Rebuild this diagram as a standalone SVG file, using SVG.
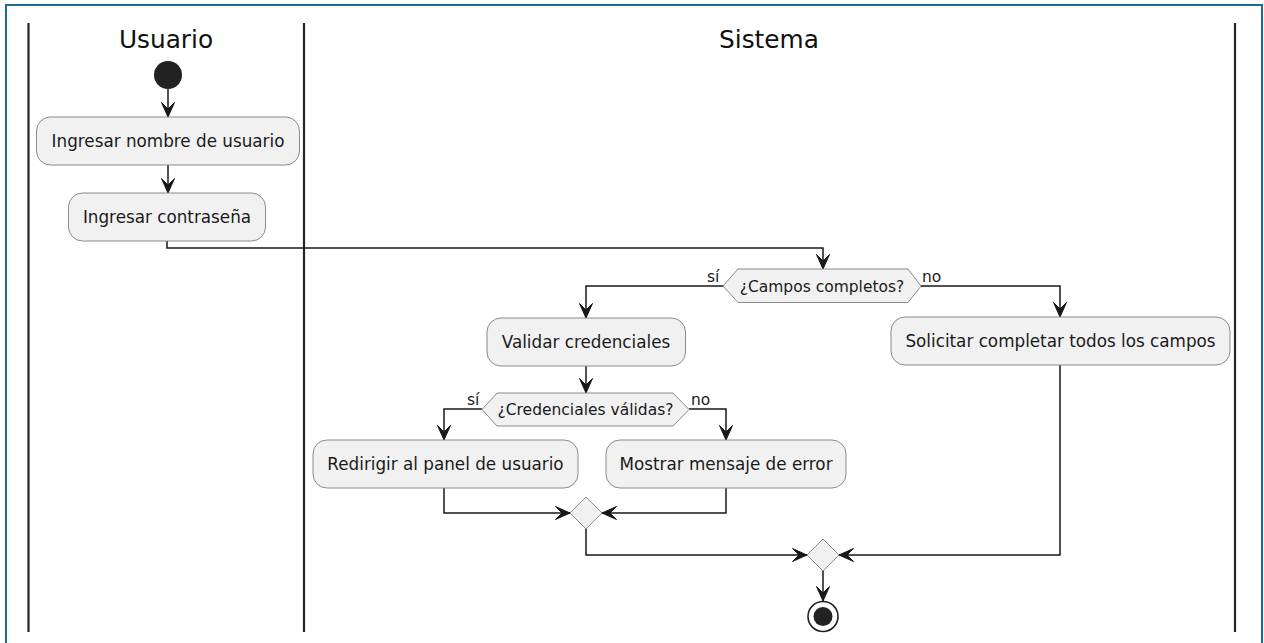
<svg xmlns="http://www.w3.org/2000/svg" width="1264" height="643" viewBox="0 0 1264 643">
  <style>
    .lane { stroke: #262626; stroke-width: 2.2; }
    .title { font-family: "DejaVu Sans", sans-serif; font-size: 24.8px; fill: #111; text-anchor: middle; }
    .act rect { fill: #F1F1F1; stroke: #8a8a8a; stroke-width: 1; }
    .act text { font-family: "DejaVu Sans", sans-serif; font-size: 16.8px; fill: #1a1a1a; text-anchor: middle; }
    .dec polygon { fill: #F1F1F1; stroke: #8a8a8a; stroke-width: 1; }
    .dec text, .guard { font-family: "DejaVu Sans", sans-serif; font-size: 15.5px; fill: #1a1a1a; }
    .dec text { text-anchor: middle; }
    .edge { fill: none; stroke: #181818; stroke-width: 1.5; marker-end: url(#arrow); }
  </style>
  <defs>
    <marker id="arrow" markerUnits="userSpaceOnUse" markerWidth="20" markerHeight="16" viewBox="-16 -8 20 16" refX="0" refY="0" orient="auto">
      <path d="M0,0 L-14.5,-6.5 L-8,0 L-14.5,6.5 Z" fill="#181818" stroke="#181818" stroke-width="1" stroke-linejoin="miter"/>
    </marker>
  </defs>

  <rect width="1264" height="643" fill="#ffffff"/>
  <!-- outer frame -->
  <rect x="6" y="5" width="1256" height="660" fill="none" stroke="#1f6a96" stroke-width="2"/>

  <!-- swimlanes -->
  <g id="lanes">
    <line class="lane" x1="28.5" y1="23" x2="28.5" y2="632"/>
    <line class="lane" x1="304" y1="23" x2="304" y2="632"/>
    <line class="lane" x1="1235" y1="23" x2="1235" y2="632"/>
    <text class="title" x="166" y="48">Usuario</text>
    <text class="title" x="769" y="48">Sistema</text>
  </g>

  <!-- connectors -->
  <g id="connectors">
    <path class="edge" d="M168,89 L168,117"/>
    <path class="edge" d="M168,165 L168,193"/>
    <path class="edge" d="M167,241 L167,248 L823,248 L823,269"/>
    <path class="edge" d="M723,286 L586,286 L586,318"/>
    <path class="edge" d="M921,286 L1060,286 L1060,317"/>
    <path class="edge" d="M586,366 L586,393"/>
    <path class="edge" d="M482,409 L444,409 L444,440"/>
    <path class="edge" d="M689,409 L726,409 L726,440"/>
    <path class="edge" d="M444,488 L444,513 L570,513"/>
    <path class="edge" d="M726,488 L726,513 L602,513"/>
    <path class="edge" d="M586,529 L586,555 L807,555"/>
    <path class="edge" d="M1060,365 L1060,555 L839,555"/>
    <path class="edge" d="M823,571 L823,601"/>
    <text class="guard" x="707" y="282">sí</text>
    <text class="guard" x="922" y="282">no</text>
    <text class="guard" x="467" y="405">sí</text>
    <text class="guard" x="691" y="405">no</text>
  </g>

  <!-- start -->
  <g id="start">
    <circle cx="168" cy="75" r="14" fill="#222222"/>
  </g>

  <g id="ingresar-usuario" class="act">
    <rect x="36.5" y="117" width="263" height="48" rx="14"/>
    <text x="168" y="147">Ingresar nombre de usuario</text>
  </g>

  <g id="ingresar-contrasena" class="act">
    <rect x="68.5" y="193" width="197" height="48" rx="14"/>
    <text x="167" y="223">Ingresar contraseña</text>
  </g>

  <g id="campos-completos" class="dec">
    <polygon points="723,286 738,269 908,269 921,286 908,302.5 738,302.5"/>
    <text x="822" y="291.5">¿Campos completos?</text>
  </g>

  <g id="validar" class="act">
    <rect x="487" y="318" width="198.5" height="48" rx="14"/>
    <text x="586" y="348">Validar credenciales</text>
  </g>

  <g id="solicitar" class="act">
    <rect x="891" y="317" width="339" height="48" rx="14"/>
    <text x="1060.5" y="347">Solicitar completar todos los campos</text>
  </g>

  <g id="credenciales-validas" class="dec">
    <polygon points="482,409.5 497,393 673,393 689,409.5 673,426 497,426"/>
    <text x="585.5" y="415">¿Credenciales válidas?</text>
  </g>

  <g id="redirigir" class="act">
    <rect x="313" y="440" width="265" height="48" rx="14"/>
    <text x="445.5" y="470">Redirigir al panel de usuario</text>
  </g>

  <g id="mostrar-error" class="act">
    <rect x="606" y="440" width="240" height="48" rx="14"/>
    <text x="726" y="470">Mostrar mensaje de error</text>
  </g>

  <g id="merge-1" class="dec">
    <polygon points="586,497 602,513 586,529 570,513"/>
  </g>

  <g id="merge-2" class="dec">
    <polygon points="823,539 839,555 823,571 807,555"/>
  </g>

  <g id="end">
    <circle cx="823" cy="616.5" r="15" fill="#ffffff" stroke="#222222" stroke-width="1.6"/>
    <circle cx="823" cy="616.5" r="9.5" fill="#222222"/>
  </g>
</svg>
